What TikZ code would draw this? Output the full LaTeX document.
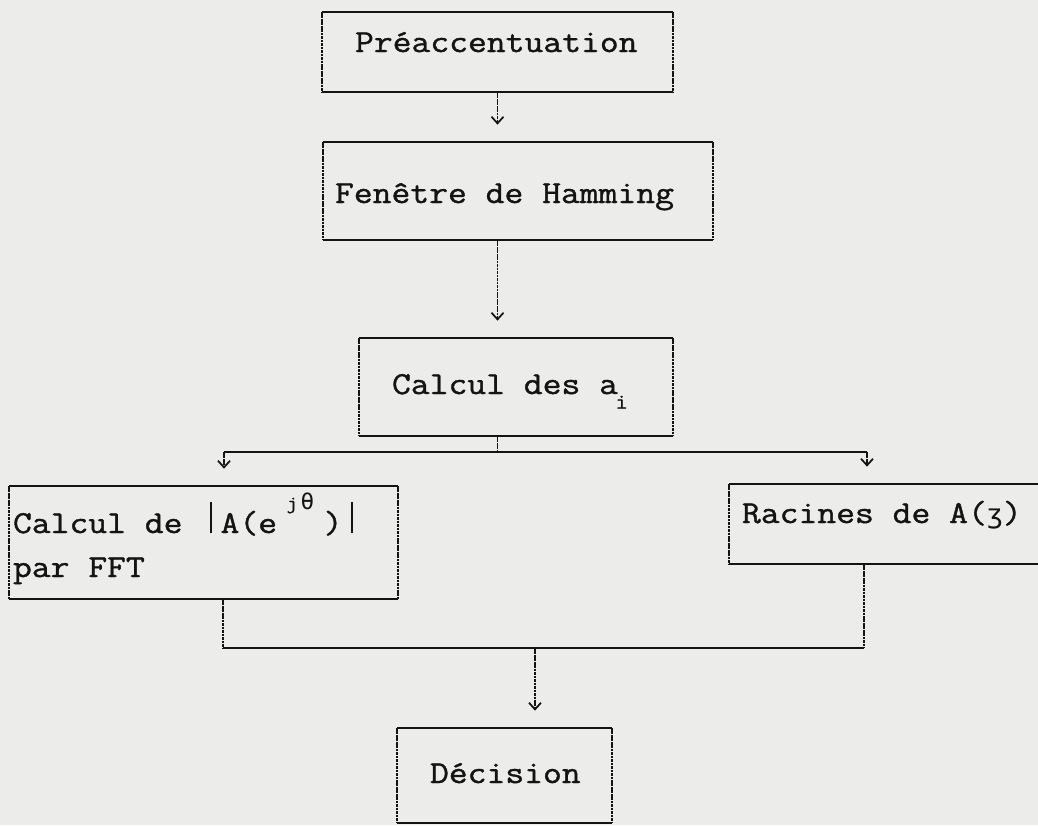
\documentclass[tikz,border=0pt]{standalone}
\usepackage{fontspec}
\newfontfamily\cour[FakeBold=1.2,FakeStretch=1.143]{Latin Modern Mono}
\newfontfamily\djm{DejaVu Sans Mono}
\usetikzlibrary{arrows.meta}
\definecolor{paper}{RGB}{236,236,234}
\definecolor{ink}{RGB}{20,20,20}
\newcommand{\tallbar}{\makebox[14.4pt][c]{\rule{1.8pt}{23pt}}}
\begin{document}
\begin{tikzpicture}[x=0.75pt,y=-0.75pt,
  boxshape/.style={draw=none,inner sep=0pt,outer sep=0pt,rectangle},
  txt/.style={inner sep=0pt,outer sep=0pt,anchor=base west,text=ink,font=\cour\fontsize{24}{28}\selectfont},
  hline/.style={draw=ink,line width=1.3pt},
  vline/.style={draw=ink,line width=1.1pt,dash pattern=on 2pt off 0.6pt},
  arr/.style={vline,-{Straight Barb[length=5pt,width=9pt,line width=1.3pt]},shorten >=13pt}]
\path[use as bounding box,clip] (0,0) rectangle (1038,825);
\fill[paper] (0,0) rectangle (1038,825);
% boxes
\node[boxshape,minimum width=263.25pt,minimum height=60pt] (b1) at (497.5,52) {};
\node[boxshape,minimum width=292.5pt,minimum height=73.5pt] (b2) at (518,191) {};
\node[boxshape,minimum width=235.5pt,minimum height=73.5pt] (b3) at (516,387) {};
\node[boxshape,minimum width=291.75pt,minimum height=84.75pt] (b4) at (203.5,542.5) {};
\node[boxshape,minimum width=240pt,minimum height=60pt] (b5) at (889,524) {};
\node[boxshape,minimum width=161.25pt,minimum height=71.25pt] (b6) at (504.5,775.5) {};
\foreach \n in {b1,b2,b3,b4,b5,b6}{
  \draw[hline] (\n.north west) -- (\n.north east);
  \draw[hline] (\n.south west) -- (\n.south east);
  \draw[vline] (\n.north west) -- (\n.south west);
  \draw[vline] (\n.north east) -- (\n.south east);
}
% texts
\node[txt] (t1) at (355,52) {Préaccentuation};
\node[txt] (t2) at (335,203) {Fenêtre de Hamming};
\node[txt] (t3) at (392,394) {Calcul des a\kern-2pt\raisebox{-11pt}{\fontsize{16}{16}\selectfont i}};
\node[txt] (t4) at (13,533) {Calcul de \tallbar A(e\raisebox{18pt}{\makebox[35pt][c]{\fontsize{14}{14}\selectfont j\,{\djm\fontsize{17}{17}\selectfont θ}}})\tallbar};
\node[txt] (t4b) at (13,577) {par FFT};
\node[txt] (t5) at (742,523) {Racines de A({\djm\fontsize{20}{20}\selectfont ʒ})};
\node[txt] (t6) at (430,783) {Décision};
% connectors
\draw[arr] (b1.south) -- (b1.south |- b2.north);
\draw[arr] (b1.south |- b2.south) -- (b1.south |- b3.north);
\coordinate (jl) at (224,452);
\coordinate (jr) at (867,452);
\draw[vline] (b1.south |- b3.south) -- (b1.south |- jl);
\draw[hline] (jl) -- (jr);
\draw[arr] (jl) -- (jl |- b4.north);
\draw[arr] (jr) -- (jr |- b5.north);
\coordinate (kl) at (223,648);
\coordinate (kr) at (864,648);
\coordinate (km) at (535,648);
\draw[vline] (kl |- b4.south) -- (kl);
\draw[vline] (kr |- b5.south) -- (kr);
\draw[hline] (kl) -- (kr);
\draw[arr] (km) -- (km |- b6.north);
\end{tikzpicture}
\end{document}
